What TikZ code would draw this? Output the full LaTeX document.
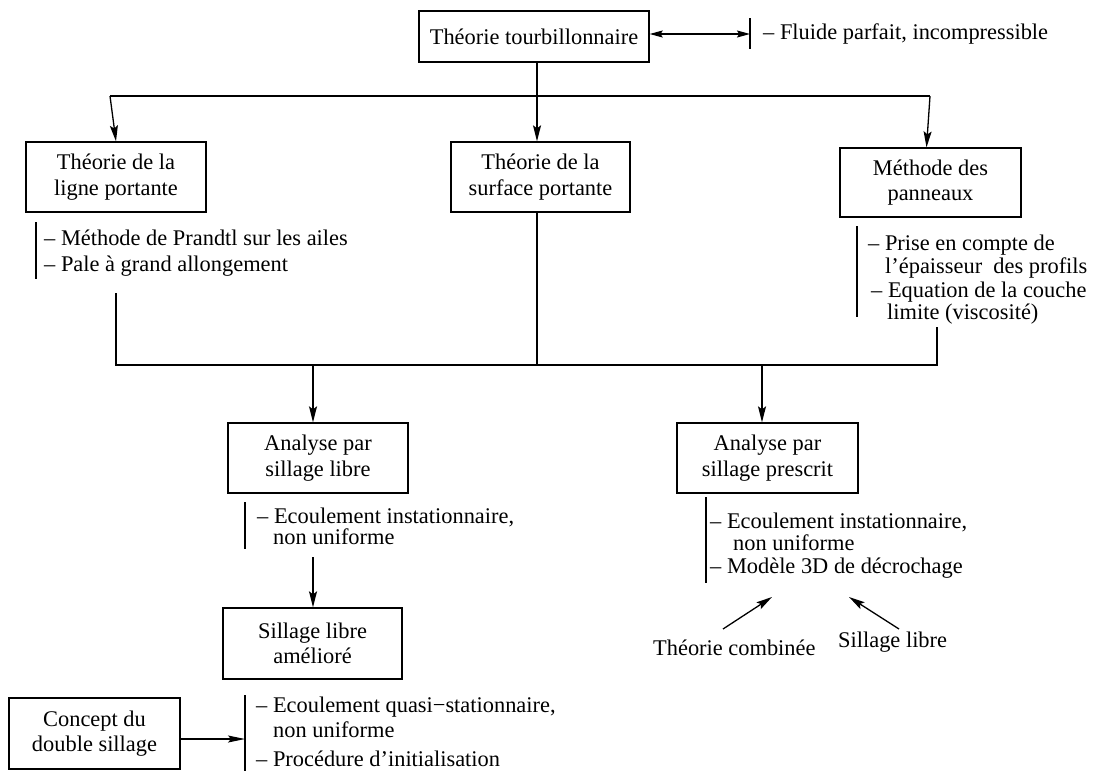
\documentclass[tikz,border=0pt]{standalone}
\usepackage{fontspec}
\setmainfont{Liberation Serif}
\usetikzlibrary{arrows.meta}
\begin{document}
\begin{tikzpicture}[x=1pt,y=-1pt,
  every node/.style={font=\fontsize{22.4}{25.5}\selectfont, inner sep=0pt},
  box/.style={draw, line width=1.3pt, align=center},
  note/.style={anchor=base west},
  link/.style={line width=1.3pt},
  tip/.style={-{Stealth[length=16pt,width=8pt,inset=3pt]}},
  arr/.style={line width=1.3pt, tip},
  sidebar/.style={line width=1.3pt}]
\useasboundingbox (0,0) rectangle (1094,771);

% boxes
\node[box, minimum width=230, minimum height=51] (top) at (534,36.5) {Théorie tourbillonnaire};
\node[box, minimum width=180, minimum height=70] (ligne) at (116,177) {Théorie de la\\ligne portante};
\node[box, minimum width=179, minimum height=70] (surf) at (540.5,177) {Théorie de la\\surface portante};
\node[box, minimum width=181, minimum height=69] (pan) at (930.5,182.5) {Méthode des\\panneaux};
\node[box, minimum width=180, minimum height=70] (alib) at (318,458) {Analyse par\\sillage libre};
\node[box, minimum width=181, minimum height=70] (apre) at (767.5,458) {Analyse par\\sillage prescrit};
\node[box, minimum width=179, minimum height=71] (amel) at (312.5,643.5) {Sillage libre\\amélioré};
\node[box, minimum width=171, minimum height=71] (dbl) at (94.5,733.5) {Concept du\\double sillage};

% hypothesis lists
\node[note] (fl) at (763,39) {– Fluide parfait, incompressible};
\node[note] (l1) at (44,245) {– Méthode de Prandtl sur les ailes};
\node[note] (l2) at (44,271) {– Pale à grand allongement};
\node[note] (p1) at (868,250) {– Prise en compte de};
\node[note] (p2) at (885,273) {l’épaisseur\ \ des profils};
\node[note] (p3) at (871,297) {– Equation de la couche};
\node[note] (p4) at (887,319) {limite (viscosité)};
\node[note] (a1) at (257,523) {– Ecoulement instationnaire,};
\node[note] (a2) at (273,544) {non uniforme};
\node[note] (r1) at (710,528) {– Ecoulement instationnaire,};
\node[note] (r2) at (733,550) {non uniforme};
\node[note] (r3) at (710,573) {– Modèle 3D de décrochage};
\node[note] (d1) at (256,712) {– Ecoulement quasi−stationnaire,};
\node[note] (d2) at (273,737) {non uniforme};
\node[note] (d3) at (256,766) {– Procédure d’initialisation};
\node[note] (tc) at (653,655) {Théorie combinée};
\node[note] (sl) at (838,647) {Sillage libre};

% side bars of the lists
\draw[sidebar] (750,18) coordinate (fbar) -- (750,49);
\draw[sidebar] (36,222) -- (36,279);
\draw[sidebar] (857,226) -- (857,317);
\draw[sidebar] (245,502) -- (245,549);
\draw[sidebar] (706,497) -- (706,583);
\draw[sidebar] (245,695) coordinate (dbar) -- (245,771);

% junction points
\coordinate (j0) at (537,96);
\coordinate (jl) at (110,96);
\coordinate (jr) at (930,96);
\coordinate (lb) at (116,293);
\coordinate (rb) at (937,327);
\coordinate (k0) at (537,365);
\coordinate (kl) at (313,365);
\coordinate (kr) at (762,365);
\coordinate (am) at (313,557);

% top level
\draw[line width=1.3pt, {Stealth[length=13pt,width=7pt,inset=2pt]}-{Stealth[length=13pt,width=7pt,inset=2pt]}]
  (top.east |- 0,34) -- (fbar |- 0,34);
\draw[link] (top.south -| j0) -- (j0);
\draw[link] (jl) -- (jr);
\draw[arr] (jl) -- (ligne.north);
\draw[arr] (j0) -- (j0 |- surf.north);
\draw[arr] (jr) -- ([xshift=-4pt]pan.north);

% collector
\draw[link] (lb) |- (rb |- k0) -- (rb);
\draw[link] (surf.south -| k0) -- (k0);
\draw[arr] (kl) -- (kl |- alib.north);
\draw[arr] (kr) -- (kr |- apre.north);
\draw[arr] (am) -- (am |- amel.north);

% double wake
\draw[line width=1.3pt, -{Stealth[length=17pt,width=7pt,inset=3pt]}] (dbl.east |- 0,739) -- (dbar |- 0,739);

% prescribed wake variants
\coordinate (tcs) at (723,629);
\coordinate (tce) at (772,597);
\coordinate (sls) at (899,629);
\coordinate (sle) at (849,597);
\draw[arr] (tcs) -- (tce);
\draw[arr] (sls) -- (sle);
\end{tikzpicture}
\end{document}
